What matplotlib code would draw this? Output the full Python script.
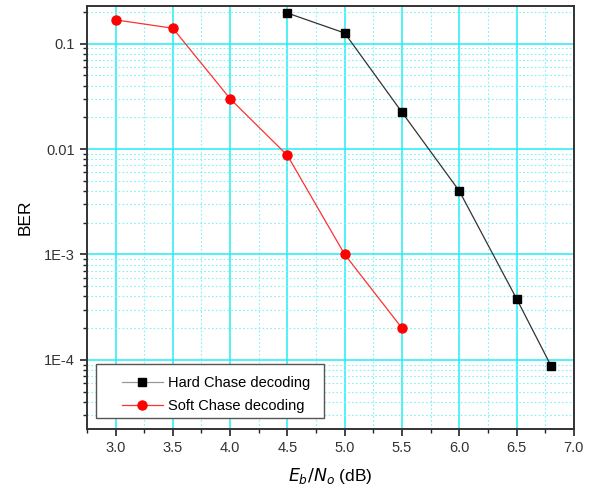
import matplotlib
matplotlib.use("Agg")
import matplotlib.pyplot as plt
from matplotlib.patches import Rectangle
from matplotlib.ticker import FixedLocator, FuncFormatter, LogLocator, MultipleLocator, NullFormatter

plt.rcParams['font.family'] = ['Liberation Sans', 'DejaVu Sans']

hard_x = [4.5, 5.0, 5.5, 6.0, 6.5, 6.8]
hard_ber = [0.195, 0.126, 0.0223, 0.0040, 3.8e-4, 8.8e-5]
soft_x = [3.0, 3.5, 4.0, 4.5, 5.0, 5.5]
soft_ber = [0.168, 0.14, 0.030, 0.0087, 1.0e-3, 2.0e-4]

ytick_vals = [1e-4, 1e-3, 1e-2, 1e-1]
ytick_labels = ["1E-4", "1E-3", "0.01", "0.1"]
xtick_vals = [3.0, 3.5, 4.0, 4.5, 5.0, 5.5, 6.0, 6.5, 7.0]

fig = plt.figure(figsize=(5.91, 4.91), dpi=100)
ax = fig.add_axes([0.147, 0.126, 0.824, 0.862])

ax.set_yscale('log')
ax.set_xlim(2.75, 7.0)
ax.set_ylim(2.2e-5, 0.228)

ax.plot(hard_x, hard_ber, color='#333333', lw=0.9, marker='s', ms=5.5,
        mfc='black', mec='black', label='Hard Chase decoding', zorder=3)
ax.plot(soft_x, soft_ber, color='#ff3030', lw=0.9, marker='o', ms=6.5,
        mfc='red', mec='red', label='Soft Chase decoding', zorder=3)

ax.xaxis.set_major_locator(FixedLocator(xtick_vals))
ax.xaxis.set_minor_locator(MultipleLocator(0.25))
ax.xaxis.set_major_formatter(FuncFormatter(lambda v, p: f"{v:.1f}"))
ax.yaxis.set_major_locator(FixedLocator(ytick_vals))
ax.yaxis.set_major_formatter(FuncFormatter(
    lambda v, p: dict(zip(ytick_vals, ytick_labels)).get(v, "")))
ax.yaxis.set_minor_locator(LogLocator(base=10, subs=range(2, 10), numticks=20))
ax.yaxis.set_minor_formatter(NullFormatter())

ax.grid(which='major', color='#22eef5', lw=1.1, ls='-', zorder=0)
ax.grid(which='minor', color='#80f2f8', lw=0.8, ls=(0, (1.5, 2)), zorder=0)
ax.set_axisbelow(True)

ax.tick_params(which='major', direction='out', length=5, width=1.2, labelsize=10.5,
               colors='#222222', labelcolor='#333333')
ax.tick_params(which='minor', direction='out', length=3, width=1.0, colors='#222222')
for s in ax.spines.values():
    s.set_color('#333333')
    s.set_linewidth(1.4)

ax.set_ylabel('BER', fontsize=12.5, labelpad=8)
ax.set_xlabel(r'$E_b/N_o$ (dB)', fontsize=12.5, labelpad=8)

frame = Rectangle((0.0185, 0.026), 0.4685, 0.128, transform=ax.transAxes,
                  facecolor='white', edgecolor='#555555', lw=1.0, zorder=4)
ax.add_patch(frame)
leg = ax.legend(loc='upper left', bbox_to_anchor=(0.072, 0.125), fontsize=10.5,
                frameon=False, handlelength=2.8, borderpad=0, borderaxespad=0,
                labelspacing=0.62, handletextpad=0.35)
leg.set_zorder(5)
leg.legend_handles[0].set_color('#999999')
leg.legend_handles[0].set_markerfacecolor('black')
leg.legend_handles[0].set_markeredgecolor('black')

fig.savefig('out.png', dpi=100)
